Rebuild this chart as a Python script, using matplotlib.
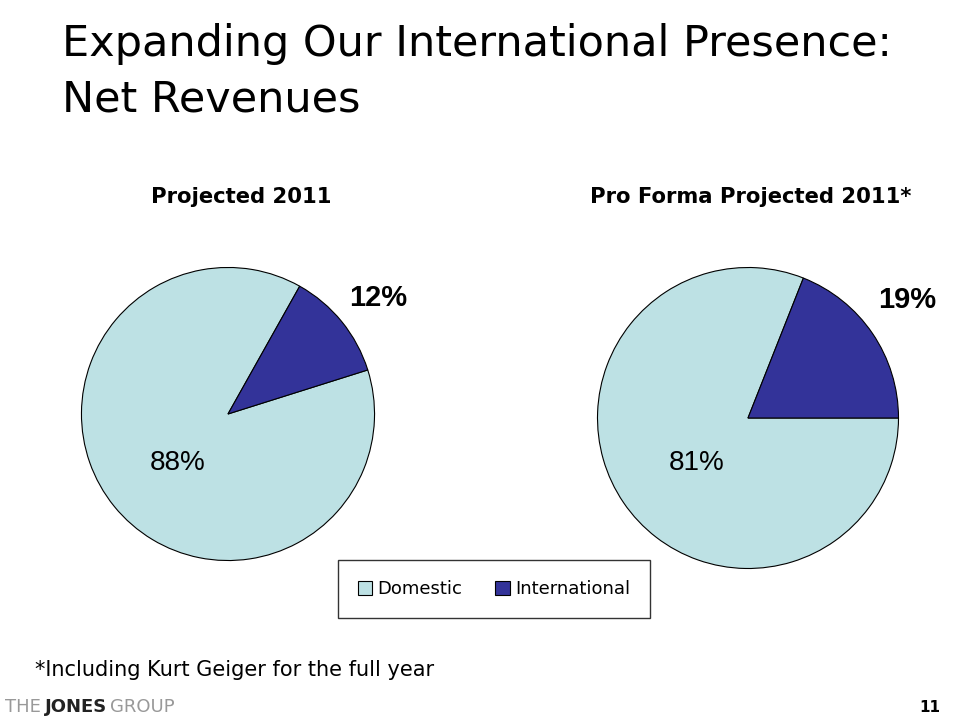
import matplotlib.pyplot as plt
from matplotlib.patches import Patch

# data
categories = ["Domestic", "International"]
left_values = [88, 12]
right_values = [81, 19]
left_title = "Projected 2011"
right_title = "Pro Forma Projected 2011*"

light = "#BDE1E4"
dark = "#333399"
W, H = 960, 720

fig = plt.figure(figsize=(9.6, 7.2), dpi=100)
sans = ["DejaVu Sans"]
arial = ["Liberation Sans", "DejaVu Sans"]


def px(x, y):
    return x / W, 1 - y / H


def pie_at(cx, cy, r, values, start):
    ax = fig.add_axes([(cx - r) / W, 1 - (cy + r) / H, 2 * r / W, 2 * r / H])
    ax.pie(values, colors=[light, dark], startangle=start, counterclock=False,
           wedgeprops=dict(edgecolor="black", linewidth=0.8))
    ax.set_xlim(-1.01, 1.01)
    ax.set_ylim(-1.01, 1.01)
    ax.set_aspect("equal")
    ax.axis("off")
    return ax


pie_at(228, 414, 148, left_values, 17.5)
pie_at(748, 418, 152, right_values, 0)

# slide title
fig.text(*px(62, 56), "Expanding Our International Presence:", fontsize=31,
         family=sans, ha="left", va="baseline")
fig.text(*px(62, 111), "Net Revenues", fontsize=31, family=sans,
         ha="left", va="baseline")

# pie titles
fig.text(*px(241, 197), left_title, fontsize=15.2, weight="bold", family=sans,
         ha="center", va="center")
fig.text(*px(751, 197), right_title, fontsize=15.2, weight="bold", family=sans,
         ha="center", va="center")

# percentage labels
fig.text(*px(378, 298), f"{left_values[1]}%", fontsize=21, weight="bold",
         family=arial, ha="center", va="center")
fig.text(*px(907, 300), f"{right_values[1]}%", fontsize=21, weight="bold",
         family=arial, ha="center", va="center")
fig.text(*px(178, 463), f"{left_values[0]}%", fontsize=20, family=arial,
         ha="center", va="center")
fig.text(*px(697, 463), f"{right_values[0]}%", fontsize=20, family=arial,
         ha="center", va="center")

# legend
handles = [Patch(facecolor=light, edgecolor="black", linewidth=0.8),
           Patch(facecolor=dark, edgecolor="black", linewidth=0.8)]
leg = fig.legend(handles, categories, loc="center", bbox_to_anchor=px(494, 589),
                 ncol=2, frameon=True, fancybox=False,
                 prop={"family": sans, "size": 13}, handlelength=0.8,
                 handleheight=0.8, handletextpad=0.3, columnspacing=1.8,
                 borderpad=1.1, borderaxespad=0)
leg.get_frame().set_edgecolor("black")
leg.get_frame().set_linewidth(1.0)

# footnote and footer
fig.text(*px(35, 670), "*Including Kurt Geiger for the full year", fontsize=15,
         family=sans, ha="left", va="center")
fig.text(*px(5, 707), "THE", fontsize=13, color="#999999", family=sans,
         ha="left", va="center")
fig.text(*px(45, 707), "JONES", fontsize=13, color="#222222", weight="bold",
         family=sans, ha="left", va="center")
fig.text(*px(110, 707), "GROUP", fontsize=13, color="#999999", family=sans,
         ha="left", va="center")
fig.text(*px(940, 707), "11", fontsize=11, weight="bold", family=sans,
         ha="right", va="center")

fig.savefig("out.png", dpi=100, facecolor="white")
